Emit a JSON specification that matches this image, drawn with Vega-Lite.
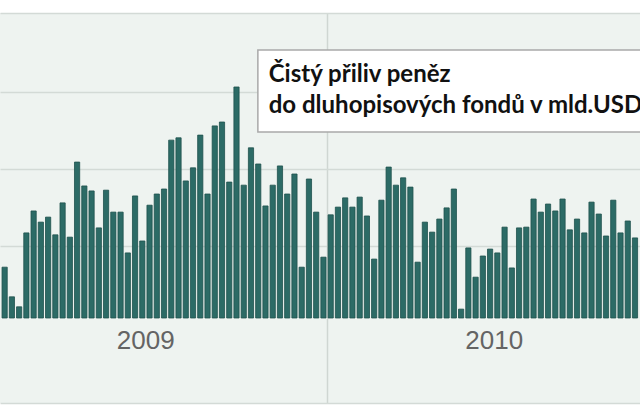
{
  "$schema": "https://vega.github.io/schema/vega-lite/v6.json",
  "width": 640,
  "height": 420,
  "autosize": {"type": "fit", "contains": "padding"},
  "padding": {"top": 13, "bottom": 17, "left": 0, "right": 0},
  "background": "white",
  "config": {"view": {"fill": "#eef3f0", "stroke": null}},
  "layer": [
    {
      "data": {"values": [
        {"i": 0, "v": 1.45}, {"i": 1, "v": 0.68}, {"i": 2, "v": 0.42}, {"i": 3, "v": 2.34}, {"i": 4, "v": 2.91},
        {"i": 5, "v": 2.62}, {"i": 6, "v": 2.75}, {"i": 7, "v": 2.29}, {"i": 8, "v": 3.12}, {"i": 9, "v": 2.23},
        {"i": 10, "v": 4.18}, {"i": 11, "v": 3.56}, {"i": 12, "v": 3.43}, {"i": 13, "v": 2.47}, {"i": 14, "v": 3.45},
        {"i": 15, "v": 2.88}, {"i": 16, "v": 2.88}, {"i": 17, "v": 1.82}, {"i": 18, "v": 3.30}, {"i": 19, "v": 2.13},
        {"i": 20, "v": 3.06}, {"i": 21, "v": 3.35}, {"i": 22, "v": 3.48}, {"i": 23, "v": 4.75}, {"i": 24, "v": 4.81},
        {"i": 25, "v": 3.69}, {"i": 26, "v": 4.03}, {"i": 27, "v": 4.88}, {"i": 28, "v": 3.35}, {"i": 29, "v": 5.12},
        {"i": 30, "v": 5.22}, {"i": 31, "v": 3.66}, {"i": 32, "v": 6.13}, {"i": 33, "v": 3.58}, {"i": 34, "v": 4.55},
        {"i": 35, "v": 4.13}, {"i": 36, "v": 3.04}, {"i": 37, "v": 3.58}, {"i": 38, "v": 4.08}, {"i": 39, "v": 3.35},
        {"i": 40, "v": 3.87}, {"i": 41, "v": 1.45}, {"i": 42, "v": 3.74}, {"i": 43, "v": 2.88}, {"i": 44, "v": 1.71},
        {"i": 45, "v": 2.81}, {"i": 46, "v": 3.01}, {"i": 47, "v": 3.25}, {"i": 48, "v": 3.01}, {"i": 49, "v": 3.27},
        {"i": 50, "v": 2.78}, {"i": 51, "v": 1.66}, {"i": 52, "v": 3.19}, {"i": 53, "v": 4.05}, {"i": 54, "v": 3.58},
        {"i": 55, "v": 3.77}, {"i": 56, "v": 3.53}, {"i": 57, "v": 1.58}, {"i": 58, "v": 2.62}, {"i": 59, "v": 2.36},
        {"i": 60, "v": 2.70}, {"i": 61, "v": 2.99}, {"i": 62, "v": 3.48}, {"i": 63, "v": 0.36}, {"i": 64, "v": 1.95},
        {"i": 65, "v": 1.19}, {"i": 66, "v": 1.74}, {"i": 67, "v": 1.92}, {"i": 68, "v": 1.82}, {"i": 69, "v": 2.49},
        {"i": 70, "v": 1.43}, {"i": 71, "v": 2.47}, {"i": 72, "v": 2.49}, {"i": 73, "v": 3.22}, {"i": 74, "v": 2.88},
        {"i": 75, "v": 3.09}, {"i": 76, "v": 2.91}, {"i": 77, "v": 3.22}, {"i": 78, "v": 2.42}, {"i": 79, "v": 2.70},
        {"i": 80, "v": 2.34}, {"i": 81, "v": 3.14}, {"i": 82, "v": 2.83}, {"i": 83, "v": 2.26}, {"i": 84, "v": 3.19},
        {"i": 85, "v": 2.34}, {"i": 86, "v": 2.65}, {"i": 87, "v": 2.21}
      ]},
      "mark": {"type": "bar", "size": 5.2, "fill": "#2c6b66", "stroke": "#1e504c", "strokeWidth": 0.8, "clip": true},
      "encoding": {
        "x": {"field": "i", "type": "quantitative",
              "scale": {"domain": [0.05, 87.0], "nice": false, "zero": false},
              "axis": {"title": null, "labels": false, "ticks": false, "domain": false, "grid": true, "values": [44.5], "gridColor": "#cfd6d2", "gridWidth": 1.5}},
        "y": {"field": "v", "type": "quantitative",
              "scale": {"domain": [-2.078, 8.052], "nice": false, "zero": false},
              "axis": {"title": null, "labels": false, "ticks": false, "domain": false, "grid": true, "values": [-2.078, 2, 4, 6, 8.052], "gridColor": "#d3dad6", "gridWidth": 1.5}},
        "y2": {"datum": 0.13}
      }
    },
    {
      "data": {"values": [{"year": "2009"}]},
      "mark": {"type": "text", "font": "Liberation Sans", "fontSize": 26, "color": "#646464", "align": "center", "baseline": "middle"},
      "encoding": {"x": {"datum": 19.47}, "y": {"datum": -0.47}, "text": {"field": "year"}}
    },
    {
      "data": {"values": [{"year": "2010"}]},
      "mark": {"type": "text", "font": "Liberation Sans", "fontSize": 26, "color": "#646464", "align": "center", "baseline": "middle"},
      "encoding": {"x": {"datum": 67.57}, "y": {"datum": -0.47}, "text": {"field": "year"}}
    },
    {
      "data": {"values": [{"note": "box"}]},
      "mark": {"type": "rect", "fill": "white", "stroke": "#a9a9a9", "strokeWidth": 1.5, "clip": true},
      "encoding": {"x": {"datum": 34.95}, "x2": {"datum": 95}, "y": {"datum": 7.09}, "y2": {"datum": 4.96}}
    },
    {
      "data": {"values": [{"t": "Čistý přiliv peněz"}]},
      "mark": {"type": "text", "font": "Lato", "fontWeight": "bold", "fontSize": 24, "color": "#111111", "align": "left", "baseline": "alphabetic", "clip": true},
      "encoding": {"x": {"datum": 36.45}, "y": {"datum": 6.26}, "text": {"field": "t"}}
    },
    {
      "data": {"values": [{"t": "do dluhopisových fondů v mld.USD"}]},
      "mark": {"type": "text", "font": "Lato", "fontWeight": "bold", "fontSize": 24, "color": "#111111", "align": "left", "baseline": "alphabetic", "clip": true},
      "encoding": {"x": {"datum": 36.45}, "y": {"datum": 5.455}, "text": {"field": "t"}}
    }
  ]
}
